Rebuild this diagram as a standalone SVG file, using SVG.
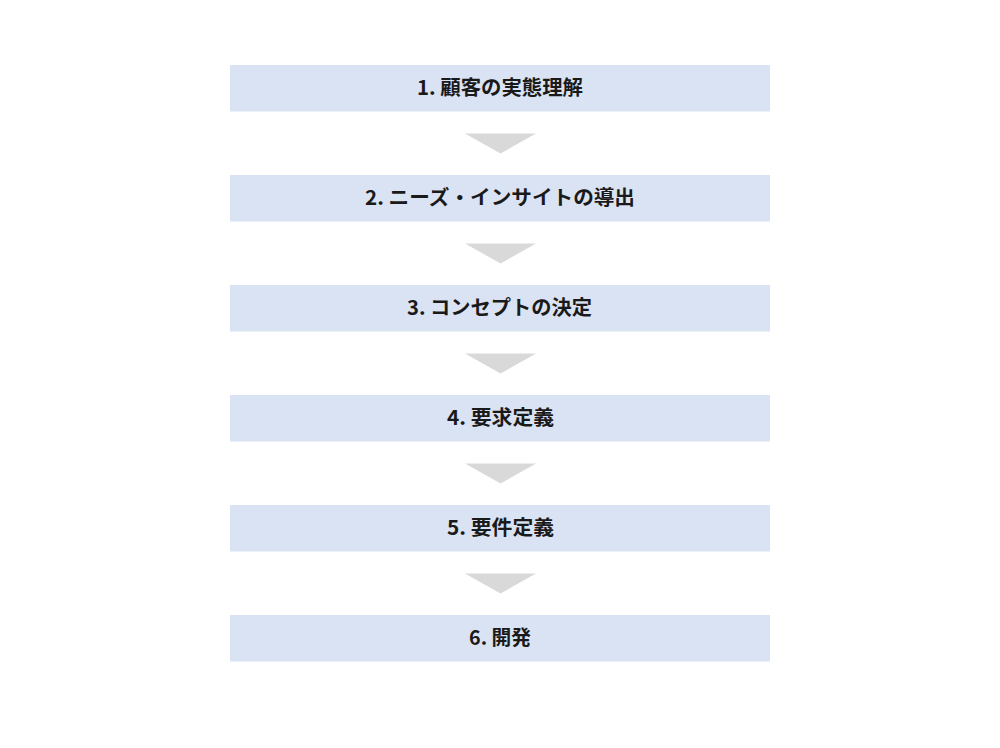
<svg xmlns="http://www.w3.org/2000/svg" width="1000" height="748" viewBox="0 0 1000 748">
<style>
.box{fill:#dae3f3}
.arr{fill:#d9d9d9}
.lbl{font-family:"Noto Sans CJK JP","Liberation Sans",sans-serif;font-weight:bold;font-size:20px;fill:#1a1a1a}
</style>
<rect width="1000" height="748" fill="#ffffff"/>
<g id="connectors">
<polygon class="arr" points="465,133.5 536,133.5 500.5,153.5"/>
<polygon class="arr" points="465,243.5 536,243.5 500.5,263.5"/>
<polygon class="arr" points="465,353.5 536,353.5 500.5,373.5"/>
<polygon class="arr" points="465,463.5 536,463.5 500.5,483.5"/>
<polygon class="arr" points="465,573.5 536,573.5 500.5,593.5"/>
</g>
<g id="step1"><rect class="box" x="230" y="65" width="540" height="46.5"/><text class="lbl" x="417" y="95" textLength="166" lengthAdjust="spacingAndGlyphs">1. 顧客の実態理解</text></g>
<g id="step2"><rect class="box" x="230" y="175" width="540" height="46.5"/><text class="lbl" x="365" y="205" textLength="270" lengthAdjust="spacingAndGlyphs">2. ニーズ・インサイトの導出</text></g>
<g id="step3"><rect class="box" x="230" y="285" width="540" height="46.5"/><text class="lbl" x="407" y="315" textLength="185" lengthAdjust="spacingAndGlyphs">3. コンセプトの決定</text></g>
<g id="step4"><rect class="box" x="230" y="395" width="540" height="46.5"/><text class="lbl" x="447" y="425" textLength="107" lengthAdjust="spacingAndGlyphs">4. 要求定義</text></g>
<g id="step5"><rect class="box" x="230" y="505" width="540" height="46.5"/><text class="lbl" x="447" y="535" textLength="107" lengthAdjust="spacingAndGlyphs">5. 要件定義</text></g>
<g id="step6"><rect class="box" x="230" y="615" width="540" height="46.5"/><text class="lbl" x="469" y="645" textLength="62" lengthAdjust="spacingAndGlyphs">6. 開発</text></g>
</svg>
